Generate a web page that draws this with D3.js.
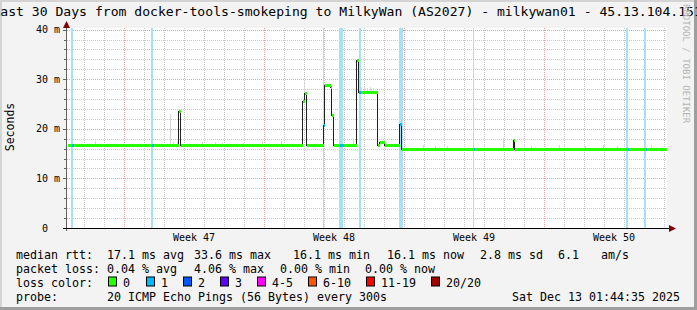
<!DOCTYPE html>
<html>
<head>
<meta charset="utf-8">
<script src="https://d3js.org/d3.v7.min.js"></script>
<style>
  body { margin: 0; background: #f3f3f3; }
  svg text { font-family: 'DejaVu Sans Mono', monospace; fill: #000; }
</style>
</head>
<body>
<svg width="697" height="310"></svg>
<script>
// times are days since the left edge of the graph
var medianDays = [0, 0.2, 0.3, 4.2, 4.3, 5.55, 5.65, 11.75, 11.83, 11.93, 12.78, 12.83, 13.15, 13.18, 13.28,
                  13.6, 13.8, 14.43, 14.53, 14.63, 15.52, 15.6, 15.85, 16.58, 16.68, 20.3, 20.35,
                  22.28, 22.33, 28.0, 28.05, 28.9, 28.95];
var medianMs   = [16.7, 16.7, 16.7, 16.7, 16.7, 23.5, 16.7, 25.6, 27.3, 16.7, 20.8, 28.8, 28.4, 22.7, 16.7,
                  16.7, 16.7, 33.8, 27.4, 27.4, 16.8, 17.4, 16.7, 21.0, 16.0, 16.0, 16.0,
                  17.8, 16.0, 16.0, 16.0, 16.0, 16.0];
var medianLoss = [0, 1, 0, 1, 0, 0, 0, 0, 0, 0, 1, 0, 0, 0, 0,
                  1, 0, 0, 1, 0, 0, 0, 0, 1, 0, 1, 0,
                  0, 0, 1, 0, 1, 0];
var endDay = 29.95;

var lossStart = [0.2, 4.2, 12.8, 13.6, 14.6, 16.6, 20.3, 27.95, 28.85];
var lossEnd   = [0.3, 4.3, 12.85, 13.8, 14.7, 16.8, 20.35, 28.05, 28.95];

var smokeDays = [0.4, 1.15, 1.4, 3.73, 5.15, 5.3, 5.48, 6.73, 7.4, 7.73, 8.8, 9.73, 10.7, 11.83, 11.95,
                 13.2, 14.3, 14.7, 14.85, 15.0, 15.15, 15.3, 16.6, 17.8, 18.4, 19.0, 21.8, 23.2, 24.6,
                 25.9, 26.8, 27.5, 29.2];
var smokeTop  = [17.0, 17.0, 17.6, 17.0, 23.0, 17.4, 17.4, 17.4, 17.4, 17.2, 17.2, 17.6, 17.6, 29.3, 17.2,
                 23.0, 18.2, 28.5, 28.4, 28.3, 28.4, 28.2, 21.8, 16.8, 16.6, 16.6, 18.2, 16.6, 16.8,
                 16.6, 16.8, 16.6, 16.8];

var yTicks = [0, 10, 20, 30, 40];
var yTickLabels = ['0', '10 m', '20 m', '30 m', '40 m'];

var rttValues = [17.1, 33.6, 16.1, 16.1, 2.8];
var rttNames = ['avg', 'max', 'min', 'now', 'sd'];
var amPerSec = 6.1;
var lossValues = [0.04, 4.06, 0.00, 0.00];
var lossNames = ['avg', 'max', 'min', 'now'];
var lossColors = ['#26ff00', '#00b8ff', '#0059ff', '#5e00ff', '#ff00ff', '#ff5500', '#ff0000', '#a00000'];
var lossBuckets = ['0', '1', '2', '3', '4-5', '6-10', '11-19', '20/20'];

var title = 'Last 30 Days from docker-tools-smokeping to MilkyWan (AS2027) - milkywan01 - 45.13.104.151';
var probeText = '20 ICMP Echo Pings (56 Bytes) every 300s';
var stamp = 'Sat Dec 13 01:44:35 2025';

var svg = d3.select('svg');
var DAY = 864e5;
var graphStart = new Date(Date.UTC(2025, 10, 14, 3, 36));
var graphEnd = new Date(+graphStart + 30 * DAY);
function t(d) { return new Date(+graphStart + d * DAY); }

var x = d3.scaleUtc().domain([graphStart, graphEnd]).range([67, 667]);
var y = d3.scaleLinear().domain([0, 40.32]).range([228, 28]);
function px(v) { return Math.round(v) + 0.5; }

// frame
svg.append('rect').attr('width', 697).attr('height', 310).attr('fill', '#f3f3f3');
svg.append('rect').attr('x', 0).attr('y', 0).attr('width', 697).attr('height', 2).attr('fill', '#d4d4d4');
svg.append('rect').attr('x', 0).attr('y', 0).attr('width', 2).attr('height', 310).attr('fill', '#d4d4d4');
svg.append('rect').attr('x', 694).attr('y', 0).attr('width', 3).attr('height', 310).attr('fill', '#9e9e9e');
svg.append('rect').attr('x', 0).attr('y', 307).attr('width', 697).attr('height', 3).attr('fill', '#9e9e9e');

// canvas
svg.append('rect').attr('x', 67).attr('y', 28).attr('width', 600).attr('height', 200).attr('fill', '#fff');

// grid
var grid = svg.append('g').attr('shape-rendering', 'crispEdges');
var days = d3.utcDay.range(graphStart, graphEnd).filter(function(d) { return d.getUTCDay() !== 1; });
var mondays = d3.utcMonday.range(graphStart, graphEnd);
var minorY = d3.range(2, 41, 2).filter(function(v) { return v % 10 !== 0; });
var majorY = yTicks.filter(function(v) { return v > 0; });

grid.selectAll('.vmin').data(days).enter().append('line')
  .attr('x1', function(d) { return px(x(d)); }).attr('x2', function(d) { return px(x(d)); })
  .attr('y1', 28).attr('y2', 228)
  .attr('stroke', '#c8c8c8').attr('stroke-dasharray', '1,1');
grid.selectAll('.hmin').data(minorY).enter().append('line')
  .attr('y1', function(d) { return px(y(d)); }).attr('y2', function(d) { return px(y(d)); })
  .attr('x1', 67).attr('x2', 667)
  .attr('stroke', '#c8c8c8').attr('stroke-dasharray', '1,1');
grid.selectAll('.vmaj').data(mondays).enter().append('line')
  .attr('x1', function(d) { return px(x(d)); }).attr('x2', function(d) { return px(x(d)); })
  .attr('y1', 28).attr('y2', 228)
  .attr('stroke', '#f09a9a').attr('stroke-dasharray', '1,1');
grid.selectAll('.hmaj').data(majorY).enter().append('line')
  .attr('y1', function(d) { return px(y(d)); }).attr('y2', function(d) { return px(y(d)); })
  .attr('x1', 67).attr('x2', 667)
  .attr('stroke', '#f09a9a').attr('stroke-dasharray', '1,1');

// loss background
svg.append('g').attr('shape-rendering', 'crispEdges')
  .selectAll('rect').data(lossStart).enter().append('rect')
  .attr('x', function(d) { return Math.round(x(t(d))); })
  .attr('width', function(d, i) { return Math.max(1, Math.round(x(t(lossEnd[i])) - x(t(d)))); })
  .attr('y', 28).attr('height', 200)
  .attr('fill', '#a6e2f7');

// smoke
function medianAt(d) {
  var i = d3.bisectRight(medianDays, d) - 1;
  return medianMs[Math.max(0, i)];
}
svg.append('g').attr('shape-rendering', 'crispEdges')
  .selectAll('rect').data(smokeDays).enter().append('rect')
  .attr('x', function(d) { return Math.round(x(t(d))); })
  .attr('width', 1)
  .attr('y', function(d, i) { return Math.round(y(smokeTop[i])); })
  .attr('height', function(d, i) { return Math.max(1, Math.round(y(medianAt(d)) - y(smokeTop[i]))); })
  .attr('fill', '#d6d6d6');

// median line
var pts = medianDays.map(function(d, i) { return [d, medianMs[i]]; });
pts.push([endDay, medianMs[medianMs.length - 1]]);
var line = d3.line()
  .x(function(p) { return px(x(t(p[0]))); })
  .y(function(p) { return px(y(p[1])); })
  .curve(d3.curveStepAfter);
svg.append('path').attr('d', line(pts))
  .attr('fill', 'none').attr('stroke', '#202020').attr('stroke-width', 1)
  .attr('shape-rendering', 'crispEdges');

// loss coloured band on the median
svg.append('g').attr('shape-rendering', 'crispEdges')
  .selectAll('rect').data(medianDays).enter().append('rect')
  .attr('x', function(d) { return Math.round(x(t(d))) + 1; })
  .attr('width', function(d, i) {
    var e = i + 1 < medianDays.length ? medianDays[i + 1] : endDay;
    return Math.max(1, Math.round(x(t(e))) - Math.round(x(t(d))));
  })
  .attr('y', function(d, i) { return Math.round(y(medianMs[i])) - 1; })
  .attr('height', 3)
  .attr('fill', function(d, i) { return lossColors[medianLoss[i]]; });

// axes
var axes = svg.append('g').attr('shape-rendering', 'crispEdges');
axes.append('line').attr('x1', 66.5).attr('x2', 66.5).attr('y1', 231).attr('y2', 25).attr('stroke', '#606060');
axes.append('line').attr('x1', 63).attr('x2', 671).attr('y1', 228.5).attr('y2', 228.5).attr('stroke', '#000');
axes.selectAll('.ytick').data(minorY.concat(majorY)).enter().append('line')
  .attr('x1', function(d) { return d % 10 === 0 ? 63 : 64; }).attr('x2', 66)
  .attr('y1', function(d) { return px(y(d)); }).attr('y2', function(d) { return px(y(d)); })
  .attr('stroke', '#606060');
svg.append('path').attr('d', 'M63,28L70,28L66.5,21Z').attr('fill', '#7f0000');
svg.append('path').attr('d', 'M669,225L669,232L676,228.5Z').attr('fill', '#7f0000');

// y labels
svg.selectAll('.ylab').data(yTicks).enter().append('text')
  .attr('x', function(d, i) { return yTickLabels[i].indexOf('m') < 0 ? 48 : 60; })
  .attr('y', function(d) { return y(d) + 3.5; })
  .attr('text-anchor', 'end').attr('font-size', '10px')
  .text(function(d, i) { return yTickLabels[i]; });

// week labels
var weekFmt = d3.utcFormat('Week %V');
svg.selectAll('.xlab').data(mondays.filter(function(m) { return +m + 3.5 * DAY < +graphEnd; }))
  .enter().append('text')
  .attr('x', function(d) { return x(new Date(+d + 3.5 * DAY)); })
  .attr('y', 241)
  .attr('text-anchor', 'middle').attr('font-size', '10px')
  .text(function(d) { return weekFmt(d); });

// axis title
svg.append('text').attr('transform', 'translate(14,127) rotate(-90)')
  .attr('text-anchor', 'middle').attr('font-size', '11.5px').text('Seconds');

// title (wider than the image, as in the original)
svg.append('text').attr('x', -7.6).attr('y', 16).attr('font-size', '13.1px').text(title);

// watermark
svg.append('text').attr('transform', 'translate(683,4) rotate(90)')
  .attr('font-size', '9px').style('fill', '#b4b4b4').text('RRDTOOL / TOBI OETIKER');

// legend
var leg = svg.append('g').attr('font-size', '11.63px');
var rows = [258.5, 272.5, 286.5, 300.5];
leg.append('text').attr('x', 16).attr('y', rows[0]).text('median rtt:');
var rttX = [107, 194, 293, 387, 480];
rttValues.forEach(function(v, i) {
  leg.append('text').attr('x', rttX[i]).attr('y', rows[0]).text(d3.format('.1f')(v) + ' ms ' + rttNames[i]);
});
leg.append('text').attr('x', 558).attr('y', rows[0]).text(d3.format('.1f')(amPerSec));
leg.append('text').attr('x', 601).attr('y', rows[0]).text('am/s');

leg.append('text').attr('x', 16).attr('y', rows[1]).text('packet loss:');
var lossX = [107, 194, 280, 365];
lossValues.forEach(function(v, i) {
  leg.append('text').attr('x', lossX[i]).attr('y', rows[1]).text(d3.format('.2f')(v) + ' % ' + lossNames[i]);
});

leg.append('text').attr('x', 16).attr('y', rows[2]).text('loss color:');
var boxX = [108, 146, 183, 220, 257, 308, 366, 431];
lossBuckets.forEach(function(b, i) {
  leg.append('rect').attr('x', boxX[i] + 0.5).attr('y', rows[2] - 9.5).attr('width', 8).attr('height', 9)
    .attr('fill', lossColors[i]).attr('stroke', '#000');
  leg.append('text').attr('x', boxX[i] + 15).attr('y', rows[2]).text(b);
});

leg.append('text').attr('x', 16).attr('y', rows[3]).text('probe:');
leg.append('text').attr('x', 107).attr('y', rows[3]).text(probeText);
leg.append('text').attr('x', 680).attr('y', rows[3]).attr('text-anchor', 'end').text(stamp);
</script>
</body>
</html>
